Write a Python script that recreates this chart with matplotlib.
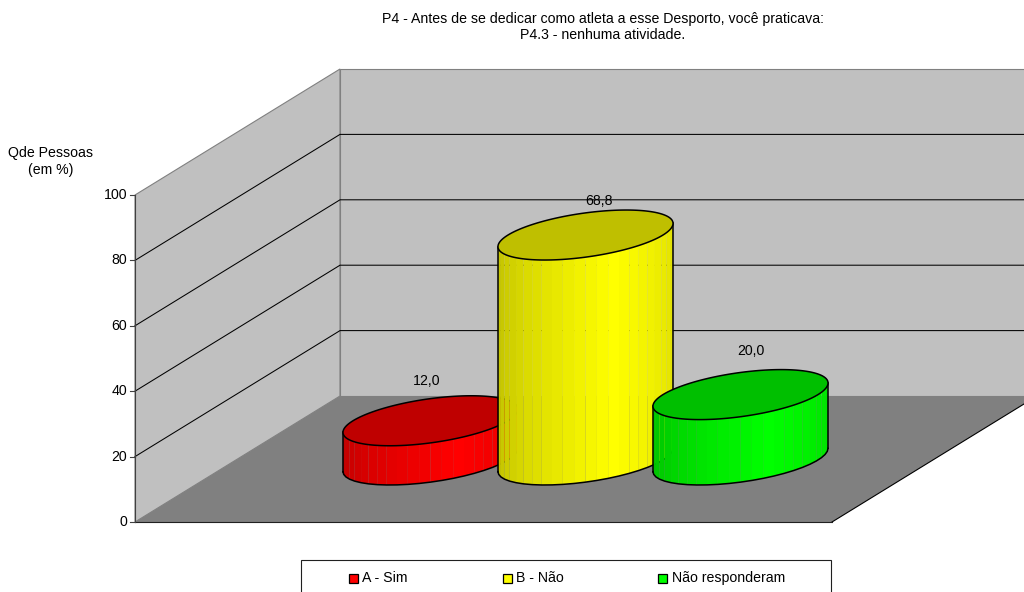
import numpy as np
import matplotlib
matplotlib.use("Agg")
import matplotlib.pyplot as plt
from matplotlib.patches import Polygon, Rectangle

plt.rcParams['font.family'] = ['Liberation Sans', 'DejaVu Sans']

# dados
categorias = ["A - Sim", "B - Não", "Não responderam"]
valores = [12.0, 68.8, 20.0]
cores = ["#ff0000", "#ffff00", "#00ff00"]
ticks_y = [0, 20, 40, 60, 80, 100]
titulo = "P4 - Antes de se dedicar como atleta a esse Desporto, você praticava:\nP4.3 - nenhuma atividade."

# geometria da caixa 3D em pixels
x0, y0 = 135, 522          # canto frontal esquerdo do chão
dx, dy = 205, -126         # deslocamento de profundidade
largura_chao = 697
escala = 327 / 100         # pixels por ponto percentual
centros = [430.5, 585.5, 740.5]
base_y = 460
A, B, C = 77.5, 40.7, 25   # eixos da elipse
n_facetas = 24
desloc_rotulo = [(-4, -40), (14, -34), (10, -44)]
tam = 10.2

fig = plt.figure(figsize=(10.24, 5.92), dpi=100)
ax = fig.add_axes([0, 0, 1, 1])
ax.set_xlim(0, 1024)
ax.set_ylim(592, 0)
ax.axis("off")


def h(v):
    return escala * v


def elipse(cx, cy, t):
    return cx + A * np.cos(t) + B * np.sin(t), cy - C * np.sin(t)


def brilho(f):
    # escurece nas duas pontas, mais claro um pouco à direita do meio
    if f < 0.6:
        return 0.74 + 0.26 * f / 0.6
    return 1.0 - 0.13 * (f - 0.6) / 0.4


# paredes e chão
topo = h(100)
ax.add_patch(Polygon([(x0, y0), (x0, y0 - topo), (x0 + dx, y0 + dy - topo), (x0 + dx, y0 + dy)],
                     fc="#c0c0c0", ec="#808080", lw=0.8, zorder=1))
ax.add_patch(Polygon([(x0 + dx, y0 + dy), (x0 + dx, y0 + dy - topo),
                      (x0 + dx + largura_chao, y0 + dy - topo), (x0 + dx + largura_chao, y0 + dy)],
                     fc="#c0c0c0", ec="#808080", lw=0.8, zorder=1))
ax.add_patch(Polygon([(x0, y0), (x0 + dx, y0 + dy), (x0 + dx + largura_chao, y0 + dy), (x0 + largura_chao, y0)],
                     fc="#808080", ec="none", zorder=2))
ax.plot([x0 + largura_chao, x0 + largura_chao + dx], [y0, y0 + dy], color="black", lw=0.8, zorder=3)
ax.plot([x0, x0 + largura_chao], [y0, y0], color="#202020", lw=0.8, zorder=3)

# grades e marcas do eixo
for v in ticks_y:
    y = y0 - h(v)
    if 0 < v < 100:
        ax.plot([x0, x0 + dx, x0 + dx + largura_chao], [y, y + dy, y + dy], color="black", lw=0.75, zorder=3)
    ax.plot([x0 - 5, x0], [y, y], color="#404040", lw=0.8, zorder=3)
    ax.text(x0 - 8, y, str(v), ha="right", va="center", fontsize=tam, color="black")
ax.plot([x0, x0], [y0, y0 - topo], color="#404040", lw=0.8, zorder=3)

# cilindros, cada um desenhado por cima do anterior
t_esq = np.arctan2(B, A) + np.pi
t_dir = t_esq + np.pi
for i, (val, cor) in enumerate(zip(valores, cores)):
    z = 5 + i
    cx = centros[i]
    alt = h(val)
    rgb = np.array(matplotlib.colors.to_rgb(cor))
    ts = np.linspace(t_esq, t_dir, n_facetas + 1)
    xs, ys = elipse(cx, base_y, ts)
    for k in range(n_facetas):
        f = (k + 0.5) / n_facetas
        ax.add_patch(Polygon([(xs[k], ys[k]), (xs[k + 1], ys[k + 1]),
                              (xs[k + 1], ys[k + 1] - alt), (xs[k], ys[k] - alt)],
                             fc=rgb * brilho(f), ec="none", lw=0, zorder=z))
    t = np.linspace(0, 2 * np.pi, 200)
    xt, yt = elipse(cx, base_y - alt, t)
    ax.plot(xs, ys, color="black", lw=1.1, zorder=z)
    ax.plot([xs[0], xs[0]], [ys[0], ys[0] - alt], color="black", lw=1.1, zorder=z)
    ax.plot([xs[-1], xs[-1]], [ys[-1], ys[-1] - alt], color="black", lw=1.1, zorder=z)
    ax.add_patch(Polygon(np.column_stack([xt, yt]), fc=rgb * 0.75, ec="black", lw=1.1, zorder=z))
    ox, oy = desloc_rotulo[i]
    ax.text(cx + ox, base_y - alt + oy, f"{val:.1f}".replace(".", ","), ha="center", va="center",
            fontsize=tam, zorder=10)

# textos
ax.text(603, 27, titulo, ha="center", va="center", fontsize=tam, linespacing=1.25)
ax.text(51, 161.5, "Qde Pessoas\n(em %)", ha="center", va="center", fontsize=tam, linespacing=1.35)

# legenda
ax.add_patch(Rectangle((301, 560), 530, 40, fc="white", ec="#202020", lw=0.8))
for x, nome, cor in zip([349, 503, 658], categorias, cores):
    ax.add_patch(Rectangle((x, 573.5), 9, 9, fc=cor, ec="black", lw=0.9))
    ax.text(x + 13.5, 578, nome, ha="left", va="center", fontsize=tam)

fig.savefig("out.png", dpi=100)
